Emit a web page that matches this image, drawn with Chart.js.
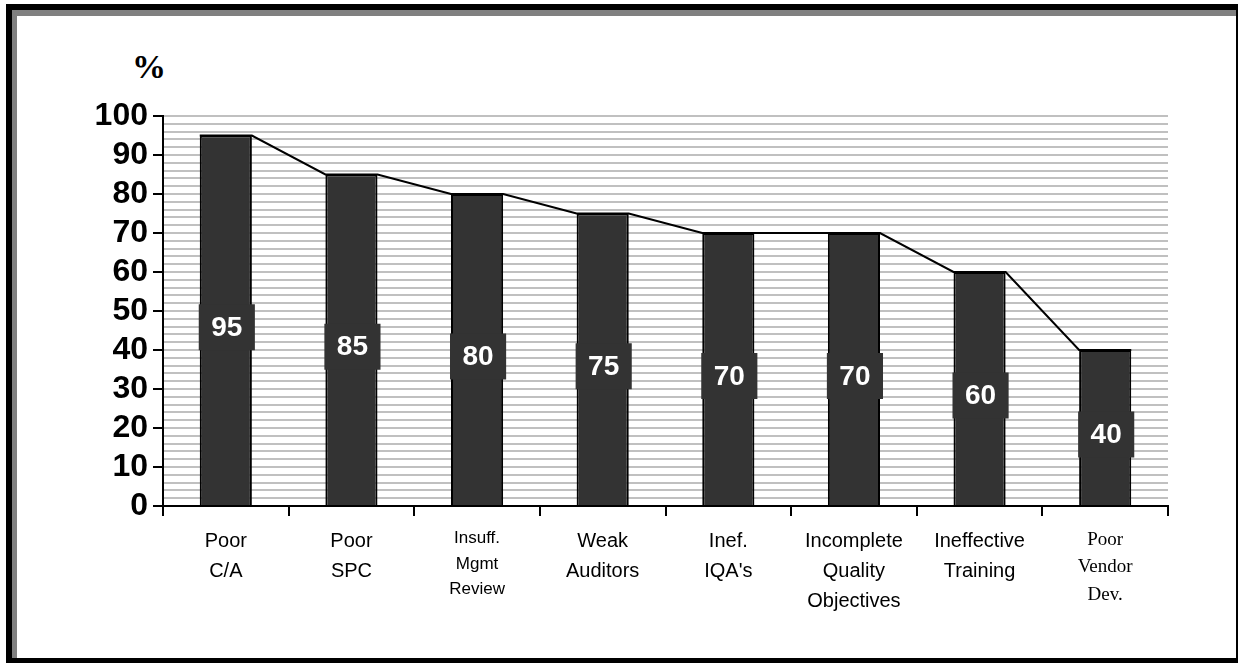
<!DOCTYPE html>
<html>
<head>
<meta charset="utf-8">
<script src="https://cdn.jsdelivr.net/npm/chart.js@4/dist/chart.umd.min.js"></script>
<style>
  html, body { margin: 0; padding: 0; background: #fff; }
  body { width: 1238px; height: 663px; position: relative; overflow: hidden; }
  #frame {
    position: absolute; left: 6px; top: 4px; width: 1232px; height: 659px;
    box-sizing: border-box;
    border-style: solid; border-color: #000;
    border-width: 6px 2px 5px 6px;
  }
  #frame-inner {
    position: absolute; left: 0; top: 0; right: 0; bottom: 0;
    border-top: 6px solid #808080; border-left: 5px solid #808080;
  }
  #unit {
    position: absolute; left: 132px; top: 50px;
    font: bold 34px "Liberation Serif", "Times New Roman", serif;
    line-height: 34px; color: #000;
  }
  #chart { position: absolute; left: 0; top: 0; }
</style>
</head>
<body>
<div id="frame"><div id="frame-inner"></div></div>
<div id="unit">%</div>
<canvas id="chart" width="1238" height="663"></canvas>
<script>
const labels = [
  ['Poor', 'C/A'],
  ['Poor', 'SPC'],
  ['Insuff.', 'Mgmt', 'Review'],
  ['Weak', 'Auditors'],
  ['Inef.', "IQA's"],
  ['Incomplete', 'Quality', 'Objectives'],
  ['Ineffective', 'Training'],
  ['Poor', 'Vendor', 'Dev.']
];
const values = [95, 85, 80, 75, 70, 70, 60, 40];
const yMin = 0;
const yMax = 100;
const yStep = 2;     // light grid every 2 %
const yLabelStep = 10;

const BAR_PCT = 0.415;

// trend line joins the top corner of each bar to the next one
const trend = [];
values.forEach((v, i) => {
  trend.push({ x: i - BAR_PCT / 2, y: v });
  trend.push({ x: i + BAR_PCT / 2, y: v });
});

const valueBoxes = {
  id: 'valueBoxes',
  afterDatasetsDraw(chart) {
    const ctx = chart.ctx;
    const meta = chart.getDatasetMeta(0);
    ctx.save();
    meta.data.forEach((bar, i) => {
      const left = bar.x - bar.width / 2 - 1;
      const w = bar.width + 4;
      const cy = (bar.y + bar.base) / 2 + 7;
      ctx.fillStyle = '#333333';
      ctx.fillRect(left, cy - 23, w, 46);
      ctx.fillStyle = '#ffffff';
      ctx.font = 'bold 28px "Liberation Sans", Arial, sans-serif';
      ctx.textAlign = 'center';
      ctx.textBaseline = 'middle';
      ctx.fillText(String(values[i]), bar.x + 1, cy + 1);
    });
    ctx.restore();
  }
};

new Chart(document.getElementById('chart'), {
  type: 'bar',
  data: {
    labels: labels,
    datasets: [
      {
        type: 'bar',
        data: values,
        xAxisID: 'x',
        grouped: false,
        backgroundColor: '#333333',
        borderColor: '#000000',
        borderWidth: 2,
        barPercentage: BAR_PCT,
        categoryPercentage: 1,
        order: 2
      },
      {
        type: 'line',
        data: trend,
        xAxisID: 'x2',
        borderColor: '#000000',
        borderWidth: 2,
        pointRadius: 0,
        tension: 0,
        order: 1
      }
    ]
  },
  options: {
    responsive: false,
    animation: false,
    layout: { padding: { left: 0, top: 116, right: 70, bottom: 0 } },
    plugins: { legend: { display: false }, tooltip: { enabled: false } },
    scales: {
      x: {
        type: 'category',
        offset: true,
        afterFit: s => { s.height = 157; },
        border: { color: '#000', width: 2 },
        grid: { offset: true, drawOnChartArea: false, color: '#000', lineWidth: 2, tickLength: 10 },
        ticks: {
          autoSkip: false,
          maxRotation: 0,
          padding: 10,
          color: '#000',
          font: c => {
            if (c.index === 2) return { family: '"Liberation Sans", Arial, sans-serif', size: 17, lineHeight: 1.5 };
            if (c.index === 7) return { family: '"Liberation Serif", "Times New Roman", serif', size: 19, lineHeight: 1.45 };
            return { family: '"Liberation Sans", Arial, sans-serif', size: 20, lineHeight: 1.5 };
          }
        }
      },
      x2: {
        type: 'linear',
        display: false,
        offset: false,
        bounds: 'data',
        grid: { offset: false },
        min: -0.5,
        max: values.length - 0.5
      },
      y: {
        min: yMin,
        max: yMax,
        afterFit: s => { s.width = 163; },
        border: { color: '#000', width: 2 },
        grid: {
          color: '#c0c0c0',
          lineWidth: 2,
          tickLength: 10,
          tickWidth: 2,
          tickColor: c => (c.tick && c.tick.value % yLabelStep === 0) ? '#000' : 'rgba(0,0,0,0)'
        },
        ticks: {
          stepSize: yStep,
          autoSkip: false,
          padding: 5,
          color: '#000',
          font: { family: '"Liberation Sans", Arial, sans-serif', size: 32, weight: 'bold' },
          callback: v => (v % yLabelStep === 0 ? v : '')
        }
      }
    }
  },
  plugins: [valueBoxes]
});
</script>
</body>
</html>
